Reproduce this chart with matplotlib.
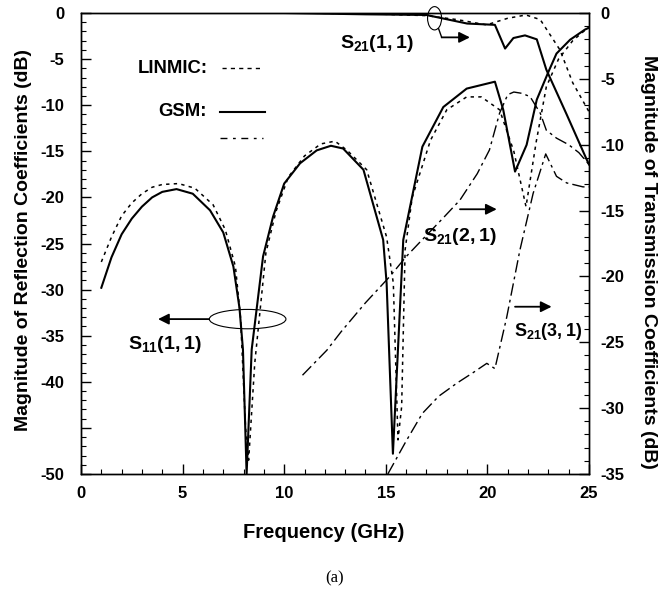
import matplotlib
matplotlib.use("Agg")
import matplotlib.pyplot as plt
from matplotlib.patches import Ellipse
import numpy as np

plt.rcParams['font.family'] = ['Liberation Sans', 'DejaVu Sans']
plt.rcParams['font.weight'] = 'bold'
plt.rcParams['axes.unicode_minus'] = False
plt.rcParams['mathtext.fontset'] = 'custom'
plt.rcParams['mathtext.bf'] = 'Liberation Sans:bold'
plt.rcParams['mathtext.rm'] = 'Liberation Sans:bold'

# ---- data ----
# S11(1,1) GSM (solid, left axis)
s11_gsm_f = [1.0, 1.5, 2.0, 2.5, 3.0, 3.5, 4.0, 4.7, 5.5, 6.35, 7.0, 7.5, 7.8, 7.97, 8.15,
             8.4, 8.96, 9.45, 10.0, 10.78, 11.6, 12.3, 12.9, 13.9, 14.87, 15.04, 15.35,
             15.86, 16.8, 17.83, 18.98, 20.37, 20.78, 21.36, 21.93, 22.43, 23.0, 23.4,
             24.07, 24.8, 25.0]
s11_gsm_db = [-29.8, -26.5, -24.0, -22.3, -21.0, -20.0, -19.4, -19.1, -19.6, -21.4, -23.8,
              -27.5, -32.0, -36.5, -50.0, -36.5, -26.4, -22.1, -18.5, -16.3, -14.9, -14.4,
              -14.7, -17.0, -24.6, -29.3, -47.8, -24.6, -14.5, -10.2, -8.2, -7.45, -10.5,
              -17.2, -14.3, -9.4, -6.4, -4.4, -2.9, -1.8, -1.6]
# S11(1,1) LINMIC (dotted, left axis)
s11_lin_f = [1.0, 1.5, 2.0, 2.5, 3.0, 3.5, 4.0, 4.8, 5.6, 6.5, 7.1, 7.6, 7.85, 8.1, 8.25,
             8.55, 9.1, 9.6, 10.2, 11.0, 11.8, 12.5, 13.1, 14.06, 15.04, 15.37, 15.6,
             15.78, 15.95, 16.3, 17.2, 18.0, 18.98, 19.7, 20.6, 21.3, 21.9, 22.4, 22.9,
             23.5, 24.2, 25.0]
s11_lin_db = [-27.0, -24.3, -22.0, -20.6, -19.6, -18.9, -18.6, -18.5, -19.0, -20.8, -23.5,
              -27.5, -33.0, -45.0, -48.5, -38.0, -26.0, -21.5, -17.8, -15.5, -14.2, -13.9,
              -14.9, -17.0, -24.3, -29.3, -46.3, -42.7, -25.7, -20.0, -13.8, -10.5, -9.1,
              -9.1, -10.5, -15.0, -21.0, -14.0, -8.0, -5.0, -3.0, -1.5]
# S21(1,1) GSM (solid, right axis)
s21_11_gsm_f = [1.0, 5.0, 10.0, 12.0, 14.0, 17.0, 19.0, 20.37, 20.87, 21.28, 21.85, 22.43,
                22.9, 23.9, 24.85, 25.0]
s21_11_gsm_db = [0.0, 0.0, 0.0, -0.05, -0.1, -0.15, -0.8, -0.9, -2.7, -1.9, -1.7, -2.0,
                 -4.3, -7.7, -11.0, -11.5]
# S21(1,1) LINMIC (dotted, right axis)
s21_11_lin_f = [1.0, 5.0, 10.0, 14.0, 17.0, 18.5, 19.96, 21.0, 21.9, 22.6, 23.57, 24.2, 25.0]
s21_11_lin_db = [0.0, 0.0, 0.0, -0.05, -0.2, -0.5, -0.9, -0.4, -0.15, -0.5, -2.8, -5.3, -7.5]
# S21(2,1) (dash-dot, right axis)
s21_21_f = [10.9, 12.1, 12.8, 14.0, 15.2, 16.0, 16.8, 17.8, 18.65, 19.5, 20.1, 20.6, 21.0,
            21.3, 21.7, 22.1, 22.6, 22.9, 23.4, 24.0, 24.5, 25.0]
s21_21_db = [-27.5, -25.6, -24.2, -22.0, -20.0, -18.5, -17.2, -15.6, -14.2, -12.2, -10.4,
             -7.6, -6.2, -6.0, -6.1, -6.35, -7.6, -8.9, -9.5, -10.0, -10.6, -11.5]
# S21(3,1) (dash-dot, right axis)
s21_31_f = [15.1, 16.0, 16.8, 17.6, 18.5, 19.3, 19.97, 20.37, 20.95, 21.6, 22.25, 22.87,
            23.4, 23.9, 24.7, 25.0]
s21_31_db = [-35.0, -32.5, -30.4, -29.1, -28.1, -27.3, -26.6, -27.0, -23.1, -18.0, -13.7,
             -10.7, -12.4, -12.9, -13.2, -13.2]

left_ticks = [0, -5, -10, -15, -20, -25, -30, -35, -40, -45, -50]
left_labels = ['0', '-5', '-10', '-15', '-20', '-25', '-30', '-35', '-40', '', '-50']
right_ticks = [0, -5, -10, -15, -20, -25, -30, -35]
x_ticks = [0, 5, 10, 15, 20, 25]

# ---- figure ----
W, H = 659, 591
fig = plt.figure(figsize=(W/100, H/100), dpi=100)
ax = fig.add_axes([81/W, 1-474/H, (589-81)/W, (474-13)/H])
ax2 = ax.twinx()

dot = (0, (2.2, 2.8))
dashdot = (0, (9, 3, 2, 3))
lw = 1.5

ax.plot(s11_gsm_f, s11_gsm_db, color='black', lw=lw)
ax.plot(s11_lin_f, s11_lin_db, color='black', lw=1.1, linestyle=dot)
ax2.plot(s21_11_gsm_f, s21_11_gsm_db, color='black', lw=lw)
ax2.plot(s21_11_lin_f, s21_11_lin_db, color='black', lw=1.1, linestyle=dot)
ax2.plot(s21_21_f, s21_21_db, color='black', lw=1.0, linestyle=dashdot)
ax2.plot(s21_31_f, s21_31_db, color='black', lw=1.0, linestyle=dashdot)

ax.set_xlim(0, 25)
ax.set_ylim(-50, 0)
ax2.set_ylim(-35, 0)

ax.set_xticks(x_ticks)
ax.set_xticks(np.arange(0, 26, 1), minor=True)
ax.set_yticks(left_ticks)
ax.set_yticklabels(left_labels)
ax.set_yticks(np.arange(-50, 1, 1), minor=True)
ax2.set_yticks(right_ticks)
ax2.set_yticks(np.arange(-35, 1, 1), minor=True)

for a in (ax, ax2):
    a.tick_params(which='major', direction='in', length=7, width=1.0, labelsize=12)
    a.tick_params(which='minor', direction='in', length=3.5, width=0.8)
    for s in a.spines.values():
        s.set_linewidth(1.0)
ax.tick_params(axis='x', pad=9)
ax.tick_params(axis='y', pad=12)
ax2.tick_params(axis='y', pad=8)

fig.text(324/W, 1-533/H, 'Frequency (GHz)', ha='center', va='center', fontsize=14.5,
         fontweight='bold')
fig.text(24/W, 1-240/H, 'Magnitude of Reflection Coefficients (dB)', ha='center', va='center',
         rotation=90, fontsize=14, fontweight='bold')
fig.text(649/W, 1-262/H, 'Magnitude of Transmission Coefficients (dB)', ha='center',
         va='center', rotation=270, fontsize=14, fontweight='bold')

# legend drawn manually
ax.text(6.25, -6.0, 'LINMIC:', ha='right', va='center', fontsize=13.3, fontweight='bold')
ax.text(6.2, -10.7, 'GSM:', ha='right', va='center', fontsize=13.3, fontweight='bold')
ax.plot([6.94, 8.96], [-5.97, -5.97], color='black', lw=1.0, linestyle=(0, (3, 3)))
ax.plot([6.84, 9.06], [-10.7, -10.7], color='black', lw=1.5)
ax.plot([6.84, 8.96], [-13.56, -13.56], color='black', lw=1.0, linestyle=(0, (5, 4, 2, 4)))

# annotations
arrow = dict(arrowstyle='-|>', lw=1.3, color='black', mutation_scale=16, shrinkA=0, shrinkB=0)
ax.add_patch(Ellipse((8.2, -33.2), 3.77, 2.1, fill=False, lw=0.8, color='black'))
ax.annotate('', xy=(3.79, -33.2), xytext=(6.3, -33.2), arrowprops=arrow)
ax.text(2.31, -36.0, r'$\mathbf{S_{11}(1,1)}$', ha='left', va='center', fontsize=14)

ax2.add_patch(Ellipse((17.4, -0.4), 0.69, 1.77, fill=False, lw=0.8, color='black', clip_on=False))
ax2.plot([17.6, 17.75], [-1.2, -1.85], color='black', lw=1.0)
ax2.annotate('', xy=(19.14, -1.85), xytext=(17.75, -1.85), arrowprops=arrow)
ax2.text(12.75, -2.3, r'$\mathbf{S_{21}(1,1)}$', ha='left', va='center', fontsize=14)

ax2.annotate('', xy=(20.46, -14.9), xytext=(18.65, -14.9), arrowprops=arrow)
ax2.text(16.83, -17.0, r'$\mathbf{S_{21}(2,1)}$', ha='left', va='center', fontsize=14)

ax2.annotate('', xy=(23.16, -22.3), xytext=(21.36, -22.3), arrowprops=arrow)
ax2.text(21.3, -24.2, r'$\mathbf{S_{21}(3,1)}$', ha='left', va='center', fontsize=13)

fig.text(335/W, 1-578/H, '(a)', ha='center', va='center', fontsize=12,
         family='Liberation Serif', fontweight='normal')

fig.savefig('out.png', dpi=100)
